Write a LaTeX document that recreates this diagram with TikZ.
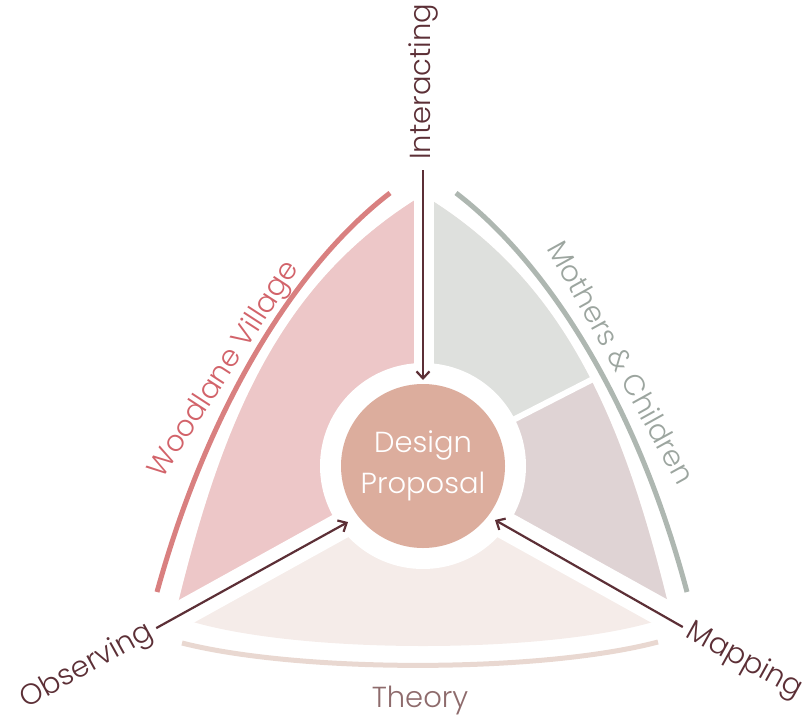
\documentclass[tikz,border=0pt]{standalone}
\usepackage{fontspec}
\IfFontExistsTF{Poppins Light}{\setmainfont{Poppins Light}}{\setmainfont{Poppins}}
\usetikzlibrary{arrows.meta}

\definecolor{rosefill}{HTML}{EDC7C8}
\definecolor{roseline}{HTML}{D98080}
\definecolor{rosetext}{HTML}{D2636A}
\definecolor{sagefill}{HTML}{DEE0DD}
\definecolor{sageline}{HTML}{AEB7B1}
\definecolor{sagetext}{HTML}{9CA59F}
\definecolor{mauvefill}{HTML}{DFD3D4}
\definecolor{theoryfill}{HTML}{F5ECE9}
\definecolor{theoryline}{HTML}{E9D8D1}
\definecolor{theorytext}{HTML}{8E6B6C}
\definecolor{proposalfill}{HTML}{DCAD9D}
\definecolor{maroon}{HTML}{5C2F36}

\newcommand\fieldpath{(423,195) .. controls (280,282) and (222,420) .. (175,616)
	.. controls (280,656) and (566,656) .. (671,616)
	.. controls (624,420) and (566,282) .. (423,195) -- cycle}

\tikzset{
	tag/.style={font=\fontsize{29}{40}\selectfont, inner sep=0pt},
	rim/.style={line width=5pt},
	gapline/.style={white, line width=#1},
	flow/.style={->, draw=maroon, line width=2.2pt},
}

\begin{document}
\begin{tikzpicture}[x=1pt, y=-1pt, >={Straight Barb[length=7pt,width=13pt]}]

		\useasboundingbox (0,0) rectangle (808,717);

		\coordinate(centre) at (423,466);
		\coordinate(hub) at (423.5,480);

		\begin{scope}
			\clip \fieldpath;
			\fill[theoryfill] (0,0) rectangle (808,717);
			\fill[rosefill] (hub) -- (423.5,0) -- (0,0) -- (0,714) -- cycle;
			\fill[sagefill] (centre) -- (808,270) -- (808,0) -- (423.5,0) -- cycle;
			\fill[mauvefill] (centre) -- (808,270) -- (808,694) -- (hub) -- cycle;
		\end{scope}

		\draw[gapline=20pt] (hub) -- (423.5,150);
		\draw[gapline=27pt] (hub) -- (140,637);
		\draw[gapline=28pt] (hub) -- (706,637);
		\draw[gapline=6pt] (centre) -- (640,355);
		\fill[white] (centre) circle[radius=103];

		\draw[rim, roseline] (390,193) .. controls (300,262) and (210,400) .. (157,592);
		\draw[rim, sageline] (456,193) .. controls (546,262) and (636,400) .. (687,592);
		\draw[rim, theoryline] (182,643) .. controls (300,673) and (540,673) .. (658,642);

		\node(proposal)[circle, fill=proposalfill, minimum size=164pt, inner sep=0pt, text=white, align=center, font=\fontsize{29}{41}\selectfont] at (centre) {Design\\Proposal};

		\node(interacting)[tag, text=maroon, rotate=90, anchor=west] at (423,160) {Interacting};
		\node(woodlane)[tag, text=rosetext, rotate=57] at (225,370) {Woodlane Village};
		\node(mothers)[tag, text=sagetext, rotate=-61] at (622,362) {Mothers \& Children};
		\node(observing)[tag, text=maroon, rotate=29, anchor=east] at (151,631) {Observing};
		\node(mapping)[tag, text=maroon, rotate=-29, anchor=west] at (688,630) {Mapping};
		\node(theory)[tag, text=theorytext, anchor=base] at (420,707) {Theory};

		\coordinate(int-tip) at (423,380);
		\coordinate(obs-tip) at (348,522);
		\coordinate(map-tip) at (495,520);

		\draw[flow, shorten <=10pt] (interacting.west) -- (int-tip);
		\draw[flow, shorten <=6pt] (observing.east) -- (obs-tip);
		\draw[flow, shorten <=6pt] (mapping.west) -- (map-tip);
	\end{tikzpicture}
\end{document}
